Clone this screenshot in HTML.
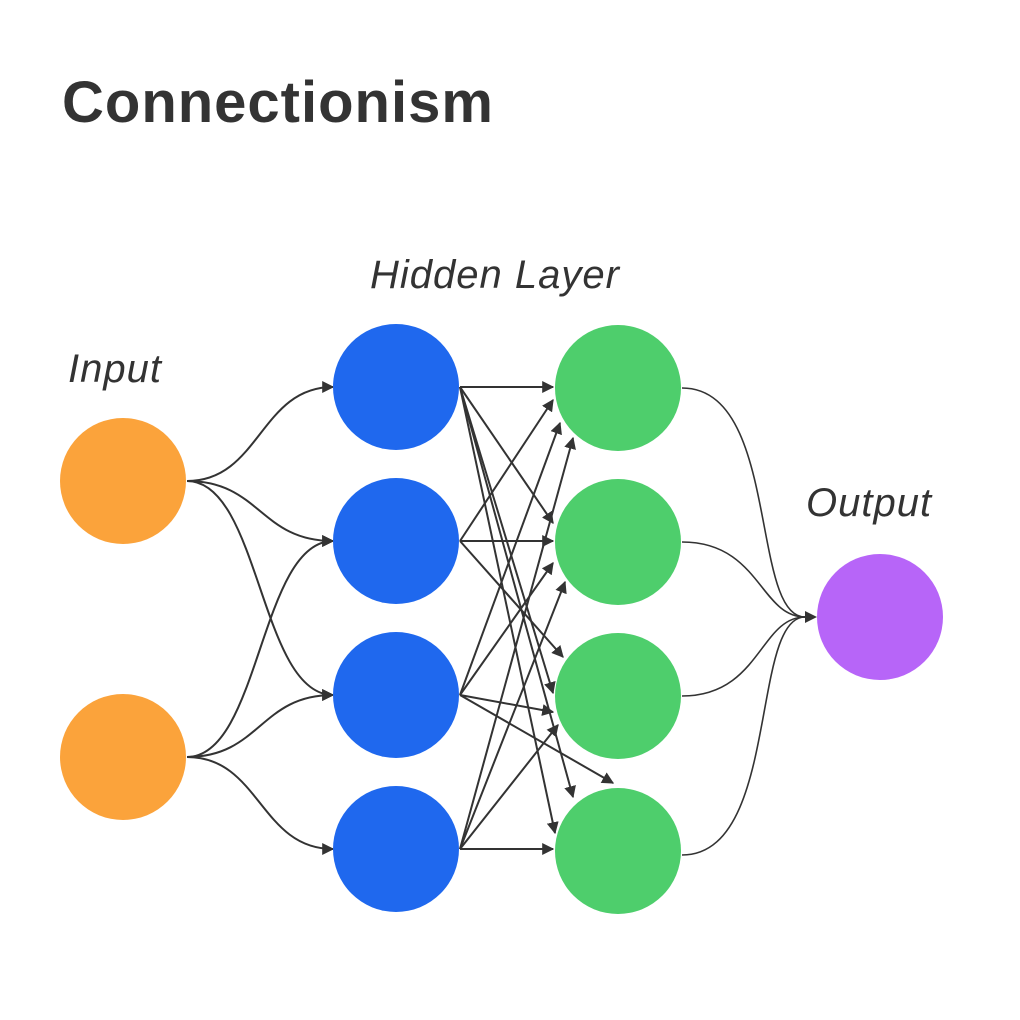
<!DOCTYPE html>
<html><head><meta charset="utf-8"><style>
html,body{margin:0;padding:0;background:#fff;}
svg{display:block;}
text{font-family:"Liberation Sans","DejaVu Sans",sans-serif;fill:#333;}
</style></head><body>
<svg width="1020" height="1020" viewBox="0 0 1020 1020" xmlns="http://www.w3.org/2000/svg">
<defs>
<marker id="a" viewBox="0 0 10 10" refX="9" refY="5" markerWidth="5.5" markerHeight="5.5" orient="auto" markerUnits="userSpaceOnUse">
<path d="M0,0 L10,5 L0,10 z" fill="#333"/></marker>
<marker id="b" viewBox="0 0 10 10" refX="9" refY="5" markerWidth="12" markerHeight="12" orient="auto" markerUnits="userSpaceOnUse">
<path d="M0,0 L10,5 L0,10 z" fill="#333"/></marker>
</defs>
<text x="62" y="122" font-size="58" font-weight="bold" letter-spacing="1">Connectionism</text>
<text x="370" y="288" font-size="40" font-style="italic" letter-spacing="1">Hidden Layer</text>
<text x="68" y="382" font-size="40" font-style="italic" letter-spacing="1">Input</text>
<text x="806" y="516" font-size="40" font-style="italic" letter-spacing="1">Output</text>

<g fill="none" stroke="#333" stroke-width="2" marker-end="url(#b)">
<path d="M187,481 C260,481 260,387 333,387"/>
<path d="M187,481 C260,481 260,541 333,541"/>
<path d="M187,481 C260,481 260,695 333,695"/>
<path d="M187,757 C260,757 260,541 333,541"/>
<path d="M187,757 C260,757 260,695 333,695"/>
<path d="M187,757 C260,757 260,849 333,849"/>

<path d="M460,387 L553,387"/>
<path d="M460,387 L553,523"/>
<path d="M460,387 L553,693"/>
<path d="M460,387 L573,797"/>
<path d="M460,541 L553,400"/>
<path d="M460,541 L553,541"/>
<path d="M460,541 L563,657"/>
<path d="M460,387 L555,833"/>
<path d="M460,695 L560,423"/>
<path d="M460,695 L553,563"/>
<path d="M460,695 L553,712"/>
<path d="M460,695 L613,783"/>
<path d="M460,849 L573,438"/>
<path d="M460,849 L565,582"/>
<path d="M460,849 L558,725"/>
<path d="M460,849 L553,849"/>
</g>
<g fill="none" stroke="#333" stroke-width="1.6">
<path d="M682,388 C780,388 750,617 805,617"/>
<path d="M682,542 C760,542 760,617 805,617"/>
<path d="M682,696 C760,696 760,617 805,617"/>
<path d="M682,855 C780,855 750,617 805,617"/>
</g>
<path d="M805,611 L817,617 L805,623 z" fill="#333"/>

<g fill="#FBA33B"><circle cx="123" cy="481" r="63"/><circle cx="123" cy="757" r="63"/></g>
<g fill="#1F68EE"><circle cx="396" cy="387" r="63"/><circle cx="396" cy="541" r="63"/><circle cx="396" cy="695" r="63"/><circle cx="396" cy="849" r="63"/></g>
<g fill="#4ECE6C"><circle cx="618" cy="388" r="63"/><circle cx="618" cy="542" r="63"/><circle cx="618" cy="696" r="63"/><circle cx="618" cy="851" r="63"/></g>
<circle cx="880" cy="617" r="63" fill="#B765F8"/>
</svg>
</body></html>
